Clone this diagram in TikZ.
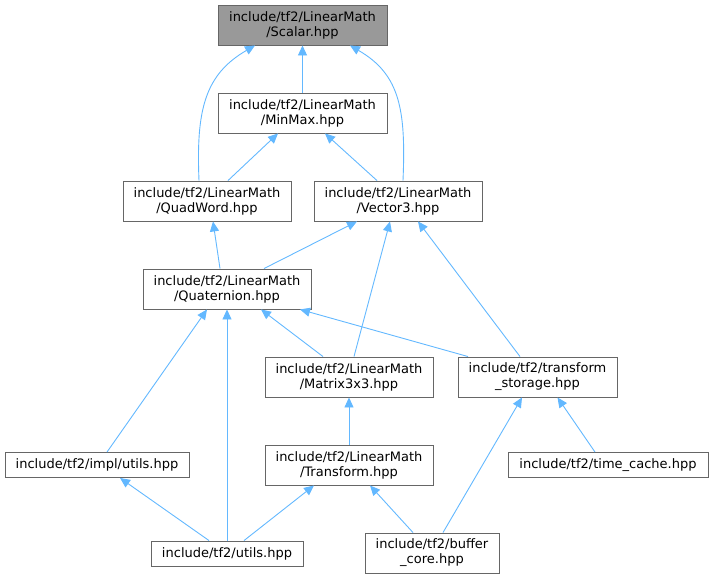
\documentclass[tikz,border=0pt]{standalone}
\usepackage{fontspec}
\setmainfont{DejaVu Sans}
\usetikzlibrary{arrows.meta}
\definecolor{edgeblue}{HTML}{63B8FF}
\definecolor{boxgray}{HTML}{666666}
\definecolor{fillgray}{HTML}{999999}
\tikzset{
  filebox/.style={draw=boxgray, line width=0.9pt, fill=white, align=center, inner sep=0pt,
    font=\fontsize{13}{15}\selectfont, anchor=center},
  dep/.style={draw=edgeblue, line width=0.9pt, -{Triangle[length=10pt,width=9pt]}},
}
\begin{document}
\begin{tikzpicture}[x=1pt,y=-1pt]
\path[use as bounding box] (0,0) rectangle (710,579);
\node[filebox, fill=fillgray, minimum width=169pt, minimum height=40pt] (scalar) at (302.5,25) {include/tf2/LinearMath\\/Scalar.hpp};
\node[filebox, minimum width=169pt, minimum height=40pt] (minmax) at (302.5,113) {include/tf2/LinearMath\\/MinMax.hpp};
\node[filebox, minimum width=168pt, minimum height=40pt] (quadword) at (207,201) {include/tf2/LinearMath\\/QuadWord.hpp};
\node[filebox, minimum width=168pt, minimum height=40pt] (vector3) at (398,201) {include/tf2/LinearMath\\/Vector3.hpp};
\node[filebox, minimum width=168pt, minimum height=40pt] (quaternion) at (227,289) {include/tf2/LinearMath\\/Quaternion.hpp};
\node[filebox, minimum width=168pt, minimum height=40pt] (matrix) at (349,377) {include/tf2/LinearMath\\/Matrix3x3.hpp};
\node[filebox, minimum width=159pt, minimum height=40pt] (tstorage) at (537.5,377) {include/tf2/transform\\\_storage.hpp};
\node[filebox, minimum width=184pt, minimum height=25pt] (implutils) at (97,465) {include/tf2/impl/utils.hpp};
\node[filebox, minimum width=168pt, minimum height=40pt] (transform) at (349,465) {include/tf2/LinearMath\\/Transform.hpp};
\node[filebox, minimum width=200pt, minimum height=25pt] (timecache) at (608,465) {include/tf2/time\_cache.hpp};
\node[filebox, minimum width=152pt, minimum height=25pt] (utils) at (227,553.5) {include/tf2/utils.hpp};
\node[filebox, minimum width=134pt, minimum height=40pt] (buffercore) at (432,553) {include/tf2/buffer\\\_core.hpp};

\draw[dep] (minmax.north) -- (scalar.south);
\draw[dep] ([xshift=-8pt]quadword.north) .. controls +(-3pt,71pt) and +(-50pt,-29pt) .. ([xshift=-47.5pt]scalar.south);
\draw[dep] ([xshift=5pt]vector3.north) .. controls +(3pt,71pt) and +(50pt,-29pt) .. ([xshift=47.5pt]scalar.south);
\draw[dep] ([xshift=21pt]quadword.north) -- ([xshift=-24.5pt]minmax.south);
\draw[dep] ([xshift=-21pt]vector3.north) -- ([xshift=22.5pt]minmax.south);
\draw[dep] ([xshift=-7pt]quaternion.north) -- ([xshift=6pt]quadword.south);
\draw[dep] ([xshift=37pt]quaternion.north) -- ([xshift=-41pt]vector3.south);
\draw[dep] ([xshift=5pt]matrix.north) -- ([xshift=-8pt]vector3.south);
\draw[dep] ([xshift=-17.5pt]tstorage.north) -- ([xshift=20pt]vector3.south);
\draw[dep] ([xshift=10pt]implutils.north) -- ([xshift=-20pt]quaternion.south);
\draw[dep] (utils.north) -- (quaternion.south);
\draw[dep] ([xshift=-26pt]matrix.north) -- ([xshift=34pt]quaternion.south);
\draw[dep] ([xshift=-69.5pt]tstorage.north) -- ([xshift=73pt]quaternion.south);
\draw[dep] (transform.north) -- (matrix.south);
\draw[dep] ([xshift=-13pt]timecache.north) -- ([xshift=20pt]tstorage.south);
\draw[dep] ([xshift=11pt]buffercore.north) -- ([xshift=-15.5pt]tstorage.south);
\draw[dep] ([xshift=-18pt]utils.north) -- ([xshift=23pt]implutils.south);
\draw[dep] ([xshift=17pt]utils.north) -- ([xshift=-35pt]transform.south);
\draw[dep] ([xshift=-19pt]buffercore.north) -- ([xshift=21pt]transform.south);
\end{tikzpicture}
\end{document}
